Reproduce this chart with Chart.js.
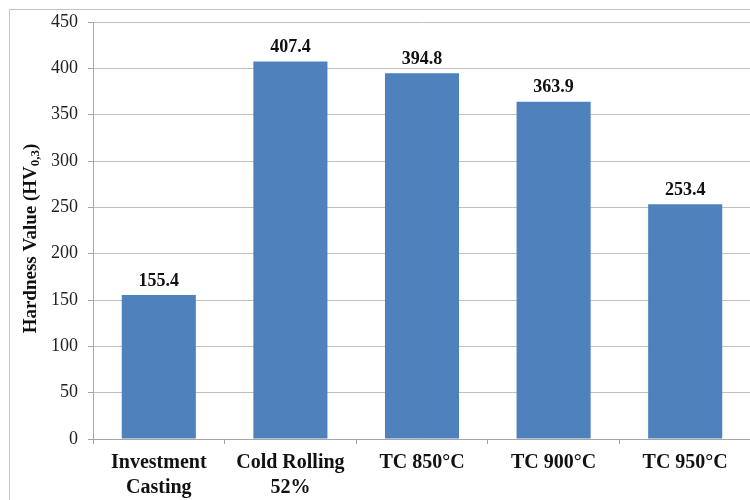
<!DOCTYPE html>
<html>
<head>
<meta charset="utf-8">
<script src="https://cdn.jsdelivr.net/npm/chart.js@4.4.1/dist/chart.umd.min.js"></script>
<style>
  html, body { margin: 0; padding: 0; background: #fff; overflow: hidden; }
  #wrap { position: relative; width: 750px; height: 500px; overflow: hidden; }
  #frame { position: absolute; left: 9px; top: 9px; width: 800px; height: 600px; border: 1px solid #c4c4c4; box-sizing: border-box; }
  canvas { position: absolute; left: 0; top: 0; }
</style>
</head>
<body>
<div id="wrap">
  <div id="frame"></div>
  <canvas id="c" width="770" height="500"></canvas>
</div>
<script>
// Hardness per processing condition
const categories = [
  ['Investment', 'Casting'],
  ['Cold Rolling', '52%'],
  'TC 850°C',
  'TC 900°C',
  'TC 950°C'
];
const hardness = [155.4, 407.4, 394.8, 363.9, 253.4];
const yTicks = [0, 50, 100, 150, 200, 250, 300, 350, 400, 450];

const SERIF = '"Liberation Serif", "Times New Roman", serif';

// Bold value captions above each bar
const valueLabels = {
  id: 'valueLabels',
  afterDatasetsDraw(chart) {
    const ctx = chart.ctx;
    const meta = chart.getDatasetMeta(0);
    ctx.save();
    ctx.font = 'bold 18px ' + SERIF;
    ctx.fillStyle = '#111';
    ctx.textAlign = 'center';
    ctx.textBaseline = 'bottom';
    meta.data.forEach((bar, i) => {
      ctx.fillText(hardness[i].toFixed(1), bar.x, bar.y - 5);
    });
    ctx.restore();
  }
};

// Rotated y-axis title with a subscript
const yTitle = {
  id: 'yTitle',
  afterDraw(chart) {
    const ctx = chart.ctx;
    const area = chart.chartArea;
    const main = 'bold 19px ' + SERIF;
    const sub = 'bold 13px ' + SERIF;
    const parts = [
      { t: 'Hardness Value (HV', f: main, dy: 0 },
      { t: '0,3', f: sub, dy: 5 },
      { t: ')', f: main, dy: 0 }
    ];
    ctx.save();
    let total = 0;
    parts.forEach(p => { ctx.font = p.f; p.w = ctx.measureText(p.t).width; total += p.w; });
    ctx.translate(31, (area.top + area.bottom) / 2 + 8);
    ctx.rotate(-Math.PI / 2);
    ctx.fillStyle = '#111';
    ctx.textBaseline = 'middle';
    ctx.textAlign = 'left';
    let x = -total / 2;
    parts.forEach(p => {
      ctx.font = p.f;
      ctx.fillText(p.t, x, p.dy);
      x += p.w;
    });
    ctx.restore();
  }
};

new Chart(document.getElementById('c'), {
  type: 'bar',
  data: {
    labels: categories,
    datasets: [{
      data: hardness,
      backgroundColor: '#4f81bd',
      borderWidth: 0,
      categoryPercentage: 0.563,
      barPercentage: 1.0
    }]
  },
  options: {
    responsive: false,
    animation: false,
    devicePixelRatio: 1,
    layout: { padding: { left: 0, top: 22, right: 19, bottom: 0 } },
    plugins: {
      legend: { display: false },
      tooltip: { enabled: false }
    },
    scales: {
      x: {
        grid: {
          drawOnChartArea: false,
          drawTicks: true,
          tickLength: 5,
          color: '#a6a6a6'
        },
        border: { display: true, color: '#a6a6a6' },
        ticks: {
          color: '#111',
          font: { family: SERIF, size: 20, weight: 'bold', lineHeight: 1.25 },
          padding: 6,
          maxRotation: 0,
          autoSkip: false
        },
        afterFit(scale) { scale.height = 61; }
      },
      y: {
        min: 0,
        max: 450,
        afterBuildTicks(scale) { scale.ticks = yTicks.map(v => ({ value: v })); },
        grid: {
          color: '#c0c0c0',
          tickLength: 5,
          tickColor: '#a6a6a6'
        },
        border: { display: true, color: '#a6a6a6' },
        ticks: {
          color: '#222',
          font: { family: SERIF, size: 18 },
          padding: 10
        },
        afterFit(scale) { scale.width = 93; }
      }
    }
  },
  plugins: [valueLabels, yTitle]
});
</script>
</body>
</html>
